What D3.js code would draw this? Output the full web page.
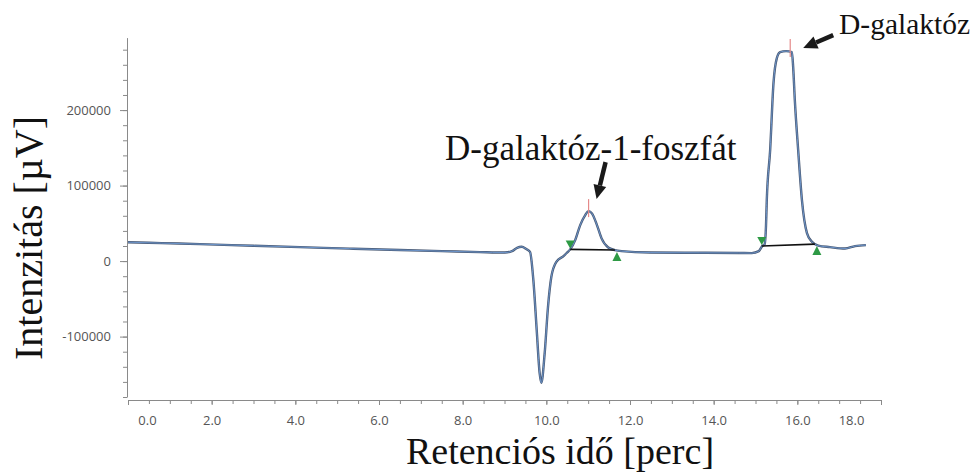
<!DOCTYPE html>
<html>
<head>
<meta charset="utf-8">
<script src="https://cdn.jsdelivr.net/npm/d3@7"></script>
<style>
  body { margin: 0; background: #fff; }
  svg { display: block; }
  .axis path, .axis line { stroke: #8a8a8a; }
  .axis text { font-family: "Open Sans", sans-serif; font-size: 13px; fill: #555; }
  .title { font-family: "Liberation Serif", "Times New Roman", serif; fill: #111; }
</style>
</head>
<body>
<svg width="974" height="473"></svg>
<script>
// chromatogram: retention time [min] / intensity [µV]
const timeMin = [0.00, 0.80, 1.72, 3.00, 4.11, 5.30, 6.50, 7.50, 8.41, 9.01, 9.18, 9.30, 9.41, 9.52,
  9.61, 9.69, 9.77, 9.84, 9.88, 9.96, 10.04, 10.12, 10.24, 10.41, 10.50, 10.57, 10.69, 10.81,
  10.93, 11.01, 11.09, 11.21, 11.32, 11.48, 11.64, 11.80, 12.48, 13.67, 14.60, 14.91, 15.08,
  15.16, 15.22, 15.25, 15.27, 15.35, 15.43, 15.51, 15.59, 15.73, 15.87, 15.90, 15.94, 16.02,
  16.11, 16.23, 16.35, 16.50, 16.78, 17.14, 17.38, 17.64];
const intensity = [25000, 23800, 22500, 20300, 18500, 16500, 14600, 13200, 11900, 11300, 13200, 17500, 18900, 16000,
  12300, -25200, -91400, -148300, -161200, -122300, -60500, -20800, -900, 6600, 11500, 15500, 27800, 47700,
  60900, 66200, 63200, 47700, 30100, 18000, 14600, 13200, 11300, 11000, 10800, 10600, 13200,
  19900, 22500, 45400, 80800, 147000, 235800, 268900, 276800, 278100, 276800, 257300, 213200, 147000,
  80800, 37100, 25600, 20500, 18500, 16600, 19900, 21200];

// integrated peaks
const peakNames = ["D-galaktóz-1-foszfát", "D-galaktóz"];
const apexTime = [11.01, 15.83];
const apexValue = [66200, 278100];
const peakStartTime = [10.57, 15.15];
const peakStartValue = [15500, 19900];
const peakEndTime = [11.64, 16.42];
const peakEndValue = [14600, 22500];

const xTicks = [0, 2, 4, 6, 8, 10, 12, 14, 16, 18];
const yTicks = [-100000, 0, 100000, 200000];

const svg = d3.select('svg');

const x = d3.scaleLinear().domain([0, 18]).range([128, 881]);
const y = d3.scaleLinear().domain([-180000, 296000]).range([397, 37.6]);

// minor ticks
svg.append('g')
    .attr('class', 'axis')
    .attr('transform', 'translate(0,400)')
    .call(d3.axisBottom(x).tickValues(d3.range(0, 18.01, 0.5)).tickSize(4).tickSizeOuter(0).tickFormat(''));
svg.append('g')
    .attr('class', 'axis')
    .attr('transform', 'translate(127,0)')
    .call(d3.axisLeft(y).tickValues(d3.range(-180000, 296000, 20000)).tickSize(4).tickSizeOuter(0).tickFormat(''));

const xAxis = svg.append('g')
    .attr('class', 'axis')
    .attr('transform', 'translate(0,400)')
    .call(d3.axisBottom(x).tickValues(xTicks).tickSize(5).tickSizeOuter(0).tickPadding(11).tickFormat(d3.format('.1f')));
xAxis.select('.domain').remove();
// end labels are pulled inside the axis, like the instrument software does
xAxis.selectAll('.tick text').filter(d => d === 0).attr('dx', 19);
xAxis.selectAll('.tick text').filter(d => d === 18).attr('dx', -30);

const yAxis = svg.append('g')
    .attr('class', 'axis')
    .attr('transform', 'translate(127,0)')
    .call(d3.axisLeft(y).tickValues(yTicks).tickSize(7).tickSizeOuter(0).tickPadding(9).tickFormat(d => String(d)));
yAxis.select('.domain').remove();

// chromatogram trace
const line = d3.line()
    .x((d, i) => x(timeMin[i]))
    .y(d => y(d))
    .curve(d3.curveMonotoneX);

svg.append('path')
    .datum(intensity)
    .attr('d', line)
    .attr('fill', 'none')
    .attr('stroke', '#4a5a74')
    .attr('stroke-width', 2.4);
svg.append('path')
    .datum(intensity)
    .attr('d', line)
    .attr('fill', 'none')
    .attr('stroke', '#6f9bd4')
    .attr('stroke-width', 0.9);

// peak baselines, apex marks and start/end markers
peakNames.forEach((name, i) => {
    svg.append('line')
        .attr('x1', x(peakStartTime[i])).attr('y1', y(peakStartValue[i]))
        .attr('x2', x(peakEndTime[i])).attr('y2', y(peakEndValue[i]))
        .attr('stroke', '#111').attr('stroke-width', 1.6);

    svg.append('line')
        .attr('x1', x(apexTime[i])).attr('x2', x(apexTime[i]))
        .attr('y1', y(apexValue[i]) - 12).attr('y2', y(apexValue[i]) + 6)
        .attr('stroke', '#e58a8a').attr('stroke-width', 1.2);

    const sx = x(peakStartTime[i]), sy = y(peakStartValue[i]) - 1;
    svg.append('path')
        .attr('d', `M${sx},${sy}L${sx - 4.5},${sy - 8}L${sx + 4.5},${sy - 8}Z`)
        .attr('fill', '#2e9a45');

    const ex = x(peakEndTime[i]) + 2, ey = y(peakEndValue[i]) + 2;
    svg.append('path')
        .attr('d', `M${ex},${ey}L${ex - 4.5},${ey + 9}L${ex + 4.5},${ey + 9}Z`)
        .attr('fill', '#2e9a45');
});

// annotation arrows
function arrow(x1, y1, x2, y2) {
    const a = Math.atan2(y2 - y1, x2 - x1);
    const hl = 14, hw = 6.5;
    const bx = x2 - hl * Math.cos(a), by = y2 - hl * Math.sin(a);
    svg.append('line')
        .attr('x1', x1).attr('y1', y1).attr('x2', bx).attr('y2', by)
        .attr('stroke', '#1a1a1a').attr('stroke-width', 4.5);
    svg.append('path')
        .attr('d', `M${x2},${y2}L${bx + hw * Math.sin(a)},${by - hw * Math.cos(a)}L${bx - hw * Math.sin(a)},${by + hw * Math.cos(a)}Z`)
        .attr('fill', '#1a1a1a');
}
arrow(x(apexTime[0]) + 17, y(apexValue[0]) - 49, x(apexTime[0]) + 8, y(apexValue[0]) - 12);
arrow(x(apexTime[1]) + 43, y(apexValue[1]) - 16, x(apexTime[1]) + 13, y(apexValue[1]) - 3);

svg.append('text')
    .attr('class', 'title')
    .attr('font-family', '"Liberation Serif", serif')
    .attr('x', 445).attr('y', 160)
    .attr('font-size', 35)
    .text(peakNames[0]);
svg.append('text')
    .attr('class', 'title')
    .attr('font-family', '"Liberation Serif", serif')
    .attr('x', 839).attr('y', 34)
    .attr('font-size', 29.5)
    .text(peakNames[1]);

// axis titles
svg.append('text')
    .attr('class', 'title')
    .attr('font-family', '"Liberation Serif", serif')
    .attr('x', 560).attr('y', 464)
    .attr('text-anchor', 'middle')
    .attr('font-size', 38)
    .text('Retenciós idő [perc]');
svg.append('text')
    .attr('class', 'title')
    .attr('font-family', '"Liberation Serif", serif')
    .attr('transform', 'translate(42,238) rotate(-90)')
    .attr('text-anchor', 'middle')
    .attr('font-size', 40)
    .text('Intenzitás [µV]');
</script>
</body>
</html>
